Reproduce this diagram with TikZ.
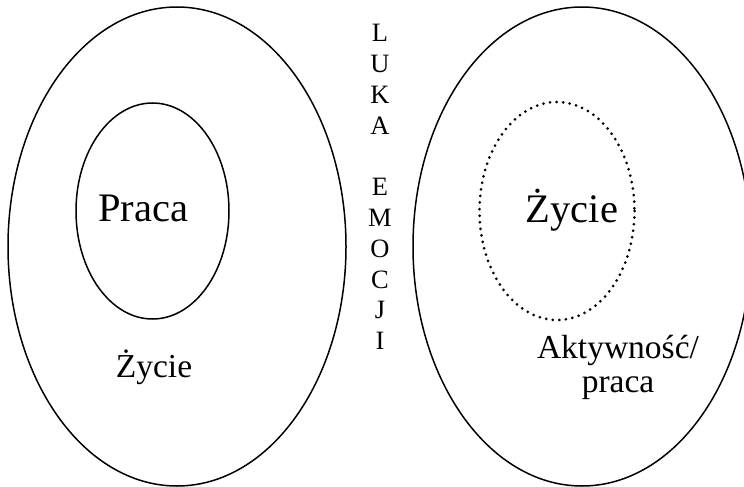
\documentclass[tikz,border=0pt]{standalone}
\usepackage{fontspec}
\setmainfont{Liberation Serif}
\begin{document}
\begin{tikzpicture}[x=1pt,y=-1pt,
  ringline/.style={draw=black,line width=1.5pt},
  dotring/.style={draw=black,line width=3pt,line cap=round,dash pattern=on 0pt off 6.6pt},
  bigtxt/.style={font=\fontsize{40.5}{46}\selectfont,inner sep=0pt},
  midtxt/.style={font=\fontsize{33.5}{38}\selectfont,inner sep=0pt,align=center},
  lettxt/.style={font=\fontsize{26.5}{30}\selectfont,inner sep=0pt}]
\useasboundingbox (0,0) rectangle (744,487);
\begin{scope}
\clip (0,0) rectangle (744,487);
% left
\draw[ringline] (177,246.5) ellipse [x radius=169, y radius=239.5];
\draw[ringline] (152.5,211) ellipse [x radius=76.5, y radius=108];
\node[bigtxt] (praca) at (143,208) {Praca};
\node[midtxt] (zycieL) at (154,367) {Życie};
% right
\draw[ringline] (582,246.5) ellipse [x radius=169, y radius=239.5];
\draw[dotring] (557,211) ellipse [x radius=77.5, y radius=109];
\node[bigtxt] (zycieR) at (572,210) {Życie};
\node[midtxt] (akt) at (618,350) {Aktywność/};
\node[midtxt] (praca2) at (618,388) {praca};
% vertical letters
\foreach \l [count=\i from 0] in {L,U,K,A,,E,M,O,C,J,I}{
  \node[lettxt] (v\i) at (380,33+\i*30.8) {\l};
}
\end{scope}
\end{tikzpicture}
\end{document}
